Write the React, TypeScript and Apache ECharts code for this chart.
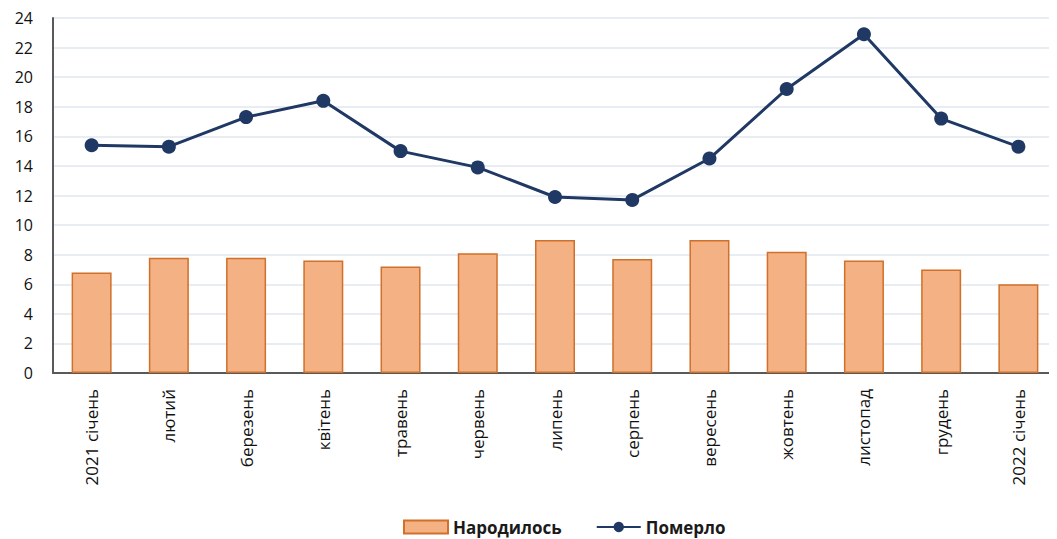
import React, { useEffect, useRef } from "react";
import * as echarts from "echarts";

const categories = [
  "2021 січень", "лютий", "березень", "квітень", "травень", "червень", "липень",
  "серпень", "вересень", "жовтень", "листопад", "грудень", "2022 січень",
];
const born = [6.8, 7.8, 7.8, 7.6, 7.2, 8.1, 9.0, 7.7, 9.0, 8.2, 7.6, 7.0, 6.0];
const died = [15.4, 15.3, 17.3, 18.4, 15.0, 13.9, 11.9, 11.7, 14.5, 19.2, 22.9, 17.2, 15.3];
const bornName = "Народилось";
const diedName = "Померло";

const FONT = "'Open Sans', 'Noto Sans', sans-serif";

export default function App() {
  const ref = useRef<HTMLDivElement>(null);
  useEffect(() => {
    const chart = echarts.init(ref.current!, null, { renderer: "svg" });
    chart.setOption({
      animation: false,
      backgroundColor: "#ffffff",
      grid: { left: 53, right: -5, top: 18, bottom: 166, containLabel: false },
      legend: {
        top: 512,
        left: 398,
        itemGap: 34,
        itemWidth: 44,
        itemHeight: 13,
        textStyle: { fontFamily: FONT, fontSize: 17, lineHeight: 20, fontWeight: "bold", color: "#1a1a1a" },
        data: [
          { name: bornName, icon: "rect" },
          { name: diedName },
        ],
      },
      xAxis: {
        type: "category",
        data: categories,
        axisLine: { lineStyle: { color: "#595959", width: 2 } },
        axisTick: { show: false },
        axisLabel: {
          rotate: 90,
          interval: 0,
          margin: 16,
          fontFamily: FONT,
          fontSize: 17,
          color: "#111111",
        },
      },
      yAxis: {
        type: "value",
        min: 0,
        max: 24,
        interval: 2,
        axisLine: { show: true, lineStyle: { color: "#595959", width: 2 } },
        axisTick: { show: false },
        splitLine: { lineStyle: { color: "#e8ecf3", width: 2 } },
        axisLabel: { margin: 20, fontFamily: FONT, fontSize: 16, color: "#111111" },
      },
      series: [
        {
          name: bornName,
          type: "bar",
          data: born,
          barWidth: 40,
          itemStyle: { color: "#F4B183", borderColor: "#D0702A", borderWidth: 1.5 },
        },
        {
          name: diedName,
          type: "line",
          data: died,
          symbol: "circle",
          symbolSize: 14,
          lineStyle: { color: "#203864", width: 3 },
          itemStyle: { color: "#203864" },
        },
      ],
    });
    return () => chart.dispose();
  }, []);
  return <div ref={ref} style={{ width: 1057, height: 539, marginLeft: -8, marginTop: -8 }} />;
}
